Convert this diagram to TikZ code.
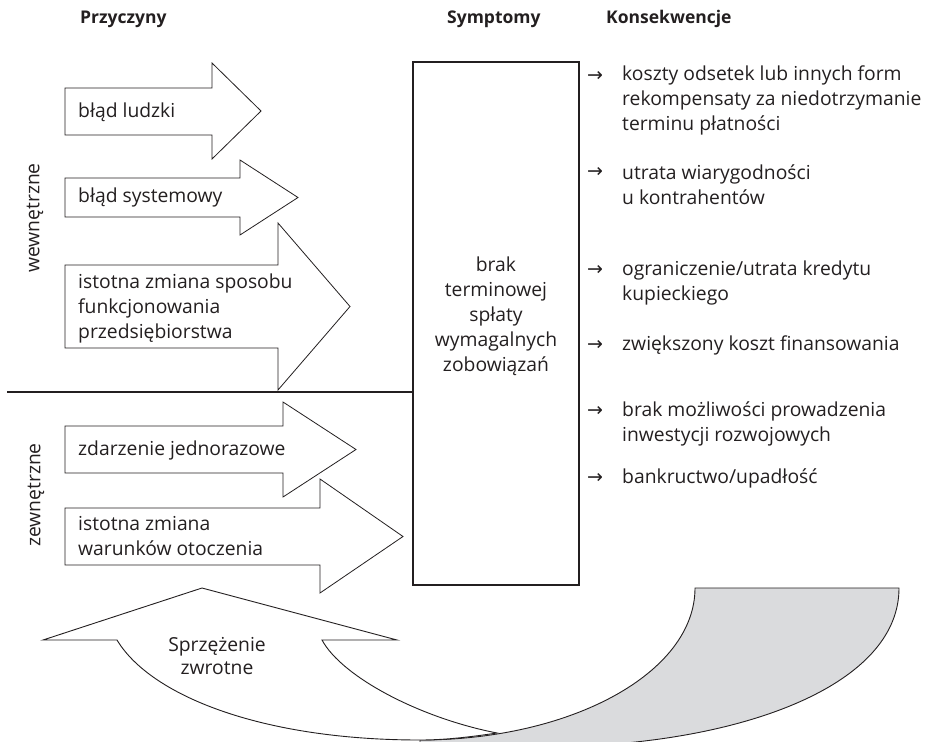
\documentclass[tikz,border=0pt]{standalone}
\usepackage{fontspec}
\setmainfont{Open Sans}
\newfontfamily\arrowfont{DejaVu Sans}
\definecolor{ink}{RGB}{35,31,32}
\definecolor{backgrey}{RGB}{218,219,221}
\begin{document}
\begin{tikzpicture}[x=1pt,y=-1pt,
  txt/.style={font=\fontsize{19.3}{25}\selectfont, text=ink, inner sep=0pt, align=left},
  fbtxt/.style={font=\fontsize{19.3}{23}\selectfont, text=ink, inner sep=0pt, align=center},
  hdr/.style={font=\fontsize{17.5}{20}\selectfont\bfseries, text=ink, inner sep=0pt, anchor=west},
  bullet/.style={font=\arrowfont\fontsize{19}{20}\selectfont, text=ink, inner sep=0pt},
  causearrow/.style={draw=ink, line width=0.8pt, fill=white, line join=miter},
  fbline/.style={draw=ink, line width=0.9pt},
  divider/.style={draw=ink, line width=1.8pt},
  symbox/.style={draw=ink, line width=2pt, minimum width=166pt, minimum height=523pt, inner sep=0pt}
]
\useasboundingbox (0,0) rectangle (952,741);

% headers
\node[hdr] (hcause) at (80,19) {Przyczyny};
\node[hdr] (hsym) at (447,19) {Symptomy};
\node[hdr] (hcons) at (606,19) {Konsekwencje};

% cause arrows
\draw[causearrow] (65,88) -- (212,88) -- (212,63) -- (261,111) -- (212,159) -- (212,135) -- (65,135) -- cycle;
\draw[causearrow] (65,178) -- (240,178) -- (240,160) -- (298,197.5) -- (240,235) -- (240,217) -- (65,217) -- cycle;
\draw[causearrow] (65,265) -- (278,265) -- (278,223) -- (350,306.5) -- (278,390) -- (278,348) -- (65,348) -- cycle;
\draw[causearrow] (65,426) -- (283,426) -- (283,402) -- (356,449.5) -- (283,497) -- (283,473) -- (65,473) -- cycle;
\draw[causearrow] (65,508) -- (320,508) -- (320,479) -- (403,536.5) -- (320,593) -- (320,565) -- (65,565) -- cycle;

\node[txt, anchor=west] (c1) at (78,112) {błąd ludzki};
\node[txt, anchor=west] (c2) at (78,197.5) {błąd systemowy};
\node[txt, anchor=west] (c3) at (78,308) {istotna zmiana sposobu\\funkcjonowania\\przedsiębiorstwa};
\node[txt, anchor=west] (c4) at (78,450) {zdarzenie jednorazowe};
\node[txt, anchor=west] (c5) at (78,536) {istotna zmiana\\warunków otoczenia};

\node[txt, rotate=90] (inner) at (35,218) {wewnętrzne};
\node[txt, rotate=90] (outer) at (36,495) {zewnętrzne};

% symptom box
\node[symbox] (box) at (496,323.5) {};
\node[txt, align=center] (symptom) at (496,316) {brak\\terminowej\\spłaty\\wymagalnych\\zobowiązań};

\coordinate (dl) at (7,392);
\draw[divider] (dl) -- (dl -| box.west);

% consequences
\node[bullet] (b1) at (595,76) {→};
\node[txt, anchor=west] (k1) at (622,100) {koszty odsetek lub innych form\\rekompensaty za niedotrzymanie\\terminu płatności};
\node[bullet] (b2) at (595,172) {→};
\node[txt, anchor=west] (k2) at (622,184.5) {utrata wiarygodności\\u kontrahentów};
\node[bullet] (b3) at (595,270) {→};
\node[txt, anchor=west] (k3) at (622,282.5) {ograniczenie/utrata kredytu\\kupieckiego};
\node[bullet] (b4) at (595,345) {→};
\node[txt, anchor=west] (k4) at (622,345) {zwiększony koszt finansowania};
\node[bullet] (b5) at (595,411) {→};
\node[txt, anchor=west] (k5) at (622,423.5) {brak możliwości prowadzenia\\inwestycji rozwojowych};
\node[bullet] (b6) at (595,478) {→};
\node[txt, anchor=west] (k6) at (622,478) {bankructwo/upadłość};

% feedback curved arrow
\begin{scope}
\clip (0,0) rectangle (952,741);
\draw[fbline, fill=backgrey] (695,588) -- (899,588) .. controls (899,680) and (760,735) .. (600,745) -- (420,748) -- (420,740) .. controls (571.9,740) and (695,672.5) .. (695,588) -- cycle;
\draw[fbline, fill=white, line join=miter] (43,640) -- (202,588) -- (397,640) -- (322,640)
  .. controls (342,677) and (420,718) .. (497,733)
  .. controls (470,737) and (445,740) .. (420,740)
  .. controls (260,740) and (150,695) .. (117,640) -- cycle;
\end{scope}
\node[fbtxt] (fb) at (217,656) {Sprzężenie\\zwrotne};
\end{tikzpicture}
\end{document}
